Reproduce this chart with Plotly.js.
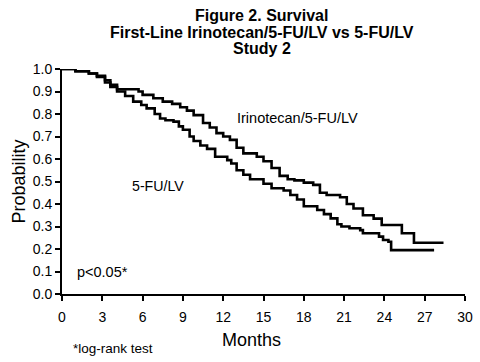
<!DOCTYPE html>
<html>
<head>
<meta charset="utf-8">
<script src="https://cdn.plot.ly/plotly-3.0.1.min.js"></script>
<style>html,body{margin:0;padding:0;background:#fff;}#chart{width:480px;height:362px;}</style>
</head>
<body>
<div id="chart"></div>
<script>
// Irinotecan/5-FU/LV Kaplan-Meier estimates (months, survival probability)
var irinoMonths = [0, 1.0, 2.0, 2.6, 3.2, 3.6, 4.1, 5.7, 6.0, 6.8, 7.5, 8.2, 8.8, 9.3, 9.8, 10.5, 11.0, 11.5, 12.0, 12.5, 13.0, 13.5, 14.5, 15.0, 15.6, 16.2, 16.8, 17.3, 18.0, 18.7, 19.2, 19.7, 20.7, 21.2, 21.7, 22.4, 23.2, 23.8, 25.3, 26.2, 28.4];
var irinoSurv   = [1.0, 0.99, 0.98, 0.97, 0.95, 0.93, 0.91, 0.90, 0.885, 0.87, 0.855, 0.845, 0.83, 0.815, 0.795, 0.76, 0.74, 0.715, 0.70, 0.685, 0.65, 0.625, 0.61, 0.59, 0.56, 0.525, 0.51, 0.505, 0.495, 0.485, 0.45, 0.44, 0.43, 0.40, 0.38, 0.35, 0.335, 0.307, 0.27, 0.228, 0.228];
// 5-FU/LV Kaplan-Meier estimates
var fuMonths = [0, 1.0, 2.0, 2.6, 3.2, 3.6, 4.1, 4.7, 5.3, 5.9, 6.3, 6.9, 7.3, 7.7, 8.3, 8.7, 9.0, 9.5, 9.8, 10.3, 10.8, 11.4, 12.3, 12.6, 13.0, 13.5, 14.0, 15.0, 15.6, 16.5, 17.0, 17.5, 18.0, 19.0, 19.5, 20.0, 20.5, 20.8, 21.4, 22.2, 22.4, 23.6, 23.9, 24.3, 24.5, 27.7];
var fuSurv   = [1.0, 0.99, 0.98, 0.965, 0.94, 0.92, 0.90, 0.88, 0.855, 0.84, 0.825, 0.80, 0.78, 0.772, 0.766, 0.745, 0.73, 0.70, 0.68, 0.66, 0.645, 0.61, 0.595, 0.58, 0.55, 0.53, 0.51, 0.49, 0.47, 0.46, 0.44, 0.42, 0.39, 0.373, 0.355, 0.336, 0.31, 0.30, 0.292, 0.284, 0.27, 0.255, 0.24, 0.232, 0.195, 0.195];

var xTicks = [0, 3, 6, 9, 12, 15, 18, 21, 24, 27, 30];
var yTicks = [0.0, 0.1, 0.2, 0.3, 0.4, 0.5, 0.6, 0.7, 0.8, 0.9, 1.0];

var titleLines = ['Figure 2. Survival', 'First-Line Irinotecan/5-FU/LV vs 5-FU/LV', 'Study 2'];
var xTitle = 'Months';
var yTitle = 'Probability';
var labelIrino = 'Irinotecan/5-FU/LV';
var labelFu = '5-FU/LV';
var pText = 'p<0.05*';
var footText = '*log-rank test';

var FONT = 'Liberation Sans, Arial, sans-serif';
var BLACK = '#000';

var traces = [
  {x: irinoMonths, y: irinoSurv, type: 'scatter', mode: 'lines', line: {shape: 'hv', color: BLACK, width: 2.6}, name: labelIrino},
  {x: fuMonths, y: fuSurv, type: 'scatter', mode: 'lines', line: {shape: 'hv', color: BLACK, width: 2.6}, name: labelFu}
];

function ann(text, x, y, xref, yref, size, extra) {
  var a = {text: text, x: x, y: y, xref: xref, yref: yref, showarrow: false,
           font: {family: FONT, size: size, color: BLACK}};
  for (var k in (extra || {})) a[k] = extra[k];
  return a;
}

var titleY = [1.2356, 1.162, 1.089];
var annotations = titleLines.map(function (t, i) {
  return ann('<b>' + t + '</b>', 0.496, titleY[i], 'paper', 'paper', 16, {yanchor: 'middle'});
});
annotations.push(ann(xTitle, 0.469, -0.204, 'paper', 'paper', 18, {yanchor: 'middle'}));
annotations.push(ann(yTitle, -0.109, 0.5, 'paper', 'paper', 18, {textangle: -90, xanchor: 'center'}));
annotations.push(ann(labelIrino, 17.5, 0.782, 'x', 'y', 14.5));
annotations.push(ann(labelFu, 7.11, 0.48, 'x', 'y', 14.2));
annotations.push(ann(pText, 2.98, 0.099, 'x', 'y', 14.5));
annotations.push(ann(footText, 0.0223, -0.24, 'paper', 'paper', 13.5, {yanchor: 'middle'}));

var layout = {
  width: 480, height: 362,
  margin: {l: 62, r: 15, t: 69, b: 68},
  paper_bgcolor: '#fff', plot_bgcolor: '#fff',
  showlegend: false,
  font: {family: FONT, color: BLACK, size: 13},
  xaxis: {
    range: [0, 30], tickvals: xTicks, ticktext: xTicks.map(String),
    showgrid: false, zeroline: false, showline: true, linecolor: BLACK, linewidth: 2,
    ticks: 'outside', ticklen: 5, tickwidth: 2, tickcolor: BLACK,
    ticklabelstandoff: 4,
    tickfont: {family: FONT, size: 14, color: BLACK}
  },
  yaxis: {
    range: [0, 1.0], tickvals: yTicks, tickformat: '.1f',
    showgrid: false, zeroline: false, showline: true, linecolor: BLACK, linewidth: 2,
    ticks: 'outside', ticklen: 5, tickwidth: 2, tickcolor: BLACK,
    tickfont: {family: FONT, size: 14, color: BLACK}
  },
  annotations: annotations
};

Plotly.newPlot('chart', traces, layout, {displayModeBar: false, staticPlot: true});
</script>
</body>
</html>
